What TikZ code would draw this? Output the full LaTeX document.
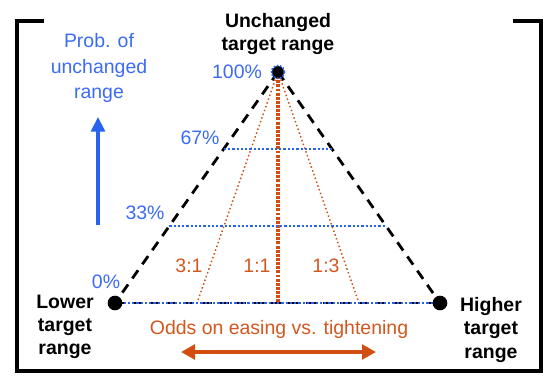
\documentclass[tikz,border=0pt]{standalone}
\usepackage{fontspec}
\setmainfont{Liberation Sans}
\usetikzlibrary{arrows.meta,calc}
\definecolor{pblue}{RGB}{40,98,240}
\definecolor{tblue}{RGB}{60,108,245}
\definecolor{porange}{RGB}{208,78,16}
\definecolor{torange}{RGB}{212,88,30}
\begin{document}
\begin{tikzpicture}[x=0.75pt,y=-0.75pt,
  lbl/.style={inner sep=0pt, font=\fontsize{14.6}{17.3}\selectfont, align=center},
  bl/.style={lbl, text=tblue},
  bk/.style={lbl, font=\fontsize{14.6}{17.3}\selectfont\bfseries},
  ol/.style={lbl, text=torange},
  side/.style={black, line width=2.1pt, dash pattern=on 7.5pt off 5.5pt},
  level/.style={pblue, line width=2.1pt, dash pattern=on 1.7pt off 1.5pt},
  oddsthin/.style={porange, line width=1.1pt, dash pattern=on 1.1pt off 1.9pt},
  oddsthick/.style={porange, line width=2.6pt, dash pattern=on 2.2pt off 0.9pt},
  blackdot/.style={circle, fill=black, inner sep=0pt, minimum size=11pt},
  framel/.style={black, line width=2.6pt}
]
\useasboundingbox (0,0) rectangle (554,386);
\fill[white] (0,0) rectangle (554,386);

% frame
\draw[framel] (44,21) -- (17,21) -- (17,371) -- (541,371) -- (541,21) -- (513,21);

% main points
\coordinate (A) at (278,72);
\coordinate (L) at (115,303);
\coordinate (R) at (440,303);
\coordinate (B31) at (197,303);
\coordinate (B11) at (278,303);
\coordinate (B13) at (359,303);

% triangle sides
\draw[side] (A) -- (L);
\draw[side] (A) -- (R);
\draw[side] (L) -- (R);

% odds lines
\draw[oddsthin] (A) -- (B31);
\draw[oddsthin] (A) -- (B13);
\draw[oddsthick] (A) -- (B11);

% probability levels
\draw[level] ($(L)!0.667!(A)$) -- ($(R)!0.667!(A)$);
\draw[level] ($(L)!0.333!(A)$) -- ($(R)!0.333!(A)$);
\draw[level] (L) -- (R);

% dots
\node[blackdot] (dotL) at (L) {};
\node[blackdot] (dotR) at (R) {};
\node[blackdot, minimum size=9pt] (dotA) at (A) {};
\draw[pblue, line width=1.3pt, dash pattern=on 1.2pt off 1.2pt] (dotA) circle[radius=4.8pt];

% labels
\node[bk] (top) at (278,34) {Unchanged\\target range};
\node[bl] (p100) at (237,72) {100\%};
\node[bl] (p67) at (200,138) {67\%};
\node[bl] (p33) at (145,213) {33\%};
\node[bl] (p0) at (106,282) {0\%};
\node[bl, font=\fontsize{14.6}{19}\selectfont] (prob) at (99,68) {Prob. of\\unchanged\\range};
\node[bk] (lower) at (65,327) {Lower\\target\\range};
\node[bk] (higher) at (491,330) {Higher\\target\\range};
\node[ol] (r31) at (189,266) {3:1};
\node[ol] (r11) at (257,266) {1:1};
\node[ol] (r13) at (326,266) {1:3};
\node[ol] (odds) at (279,329) {Odds on easing vs. tightening};

% arrows
\coordinate (ub) at (98,225);
\coordinate (ut) at (98,117);
\draw[pblue, line width=2.3pt, -{Triangle[length=11pt,width=10.5pt]}] (ub) -- (ut);
\coordinate (oa) at (181,352);
\coordinate (ob) at (376,352);
\draw[porange, line width=2.6pt, {Triangle[length=10.5pt,width=11pt]}-{Triangle[length=10.5pt,width=11pt]}] (oa) -- (ob);
\end{tikzpicture}
\end{document}
